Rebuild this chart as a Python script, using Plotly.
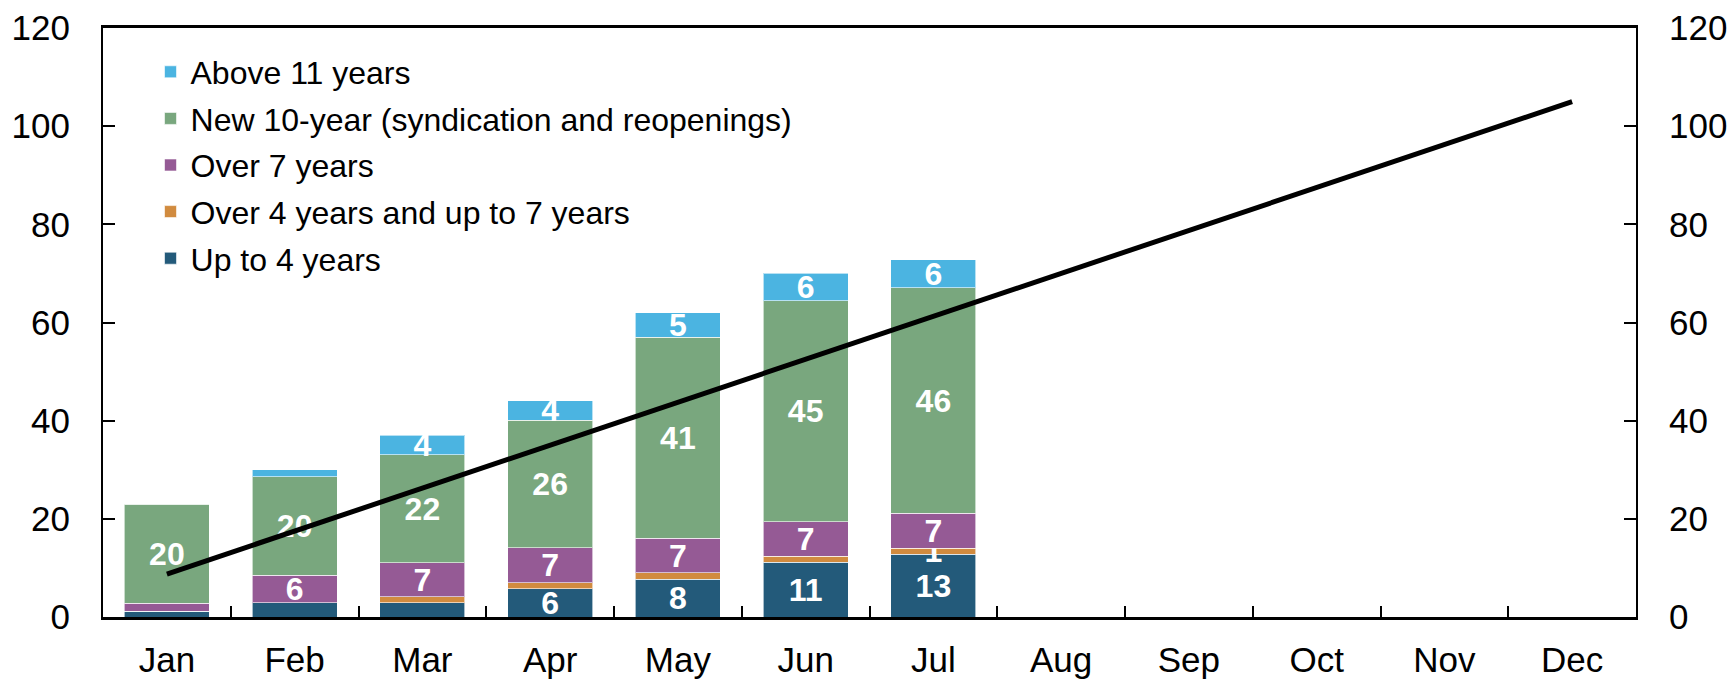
import plotly.graph_objects as go

months = ["Jan", "Feb", "Mar", "Apr", "May", "Jun", "Jul", "Aug", "Sep", "Oct", "Nov", "Dec"]
bar_months = months[:7]

# bond issuance by maturity bucket
up_to_4 = [1.2, 2.9, 2.9, 5.8, 7.7, 11.2, 12.8]
over_4_to_7 = [0.0, 0.0, 1.2, 1.2, 1.3, 1.2, 1.2]
over_7 = [1.6, 5.6, 7.0, 7.1, 7.0, 7.0, 7.1]
new_10y = [20.2, 20.1, 22.0, 26.0, 41.0, 45.0, 46.0]
above_11 = [0.0, 1.4, 3.9, 4.0, 5.0, 5.6, 5.7]

# labels shown on the bars
up_to_4_txt = ["", "", "", "6", "8", "11", "13"]
over_4_to_7_txt = ["", "", "", "", "", "", "1"]
over_7_txt = ["", "6", "7", "7", "7", "7", "7"]
new_10y_txt = ["20", "20", "22", "26", "41", "45", "46"]
above_11_txt = ["", "", "4", "4", "5", "6", "6"]

# planned cumulative path
target = [8.75, 17.5, 26.25, 35, 43.75, 52.5, 61.25, 70, 78.75, 87.5, 96.25, 105]

series = [
    ("Up to 4 years", up_to_4, up_to_4_txt, "#235a7a"),
    ("Over 4 years and up to 7 years", over_4_to_7, over_4_to_7_txt, "#d18b3f"),
    ("Over 7 years", over_7, over_7_txt, "#955a95"),
    ("New 10-year (syndication and reopenings)", new_10y, new_10y_txt, "#79a77e"),
    ("Above 11 years", above_11, above_11_txt, "#4bb4e1"),
]

font = "Arial, Liberation Sans, sans-serif"

fig = go.Figure()
for i, (name, vals, txt, col) in enumerate(series):
    fig.add_trace(go.Bar(
        x=bar_months, y=vals, name=name, legendgroup=name,
        legendrank=len(series) - i,  # top of the stack first in the legend
        marker=dict(color=col, line=dict(color="rgba(255,255,255,0.6)", width=1)),
        text=txt, textposition="inside", insidetextanchor="middle",
        textangle=0, constraintext="none",
        textfont=dict(family=font, size=32, color="white", weight="bold"),
        hoverinfo="x+y+name",
    ))

fig.add_trace(go.Scatter(
    x=months, y=target, mode="lines", yaxis="y2", showlegend=False,
    line=dict(color="black", width=5),
))

fig.update_layout(
    width=1733, height=681,
    margin=dict(l=103, r=97, t=28, b=64),
    plot_bgcolor="white", paper_bgcolor="white",
    barmode="stack", bargap=0.335,
    font=dict(family=font, size=35, color="black"),
    legend=dict(
        x=0.031, y=0.972, xanchor="left", yanchor="top",
        traceorder="grouped", tracegroupgap=2,
        font=dict(size=32), bgcolor="rgba(0,0,0,0)",
    ),
    xaxis=dict(
        categoryorder="array", categoryarray=months, range=[-0.5, 11.5],
        showline=True, linecolor="black", linewidth=2.5, mirror=True,
        ticks="inside", tickson="boundaries", ticklen=11, tickwidth=1.5, tickcolor="black",
        ticklabelstandoff=10, showgrid=False, automargin=False,
    ),
    yaxis=dict(
        range=[0, 120], dtick=20, showline=True, linecolor="black", linewidth=2,
        ticks="inside", ticklen=12, tickwidth=1.5, tickcolor="black",
        ticklabelstandoff=24, showgrid=False, zeroline=False, automargin=False,
    ),
    yaxis2=dict(
        range=[0, 120], dtick=20, overlaying="y", side="right",
        showline=True, linecolor="black", linewidth=2,
        ticks="inside", ticklen=12, tickwidth=1.5, tickcolor="black",
        ticklabelstandoff=24, showgrid=False, zeroline=False, automargin=False,
    ),
)

fig.write_html("out.html", config={"displayModeBar": False},
               post_script="document.body.style.margin='0';")
